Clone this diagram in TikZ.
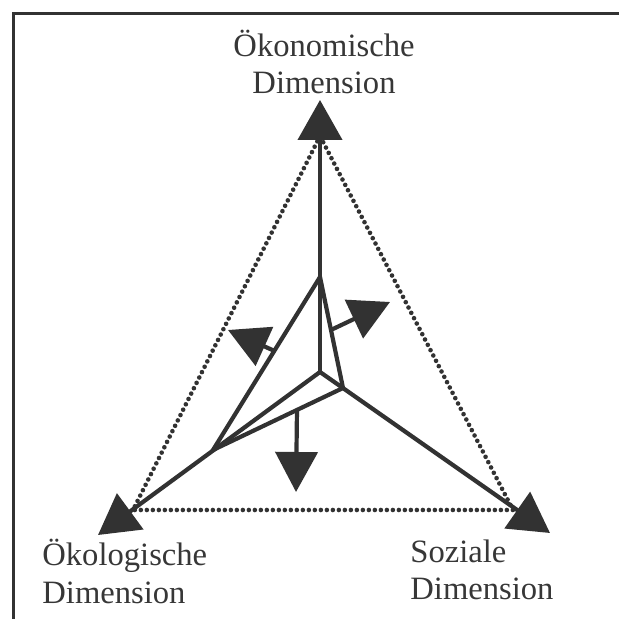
\documentclass[tikz,border=0pt]{standalone}
\usepackage{fontspec}
\setmainfont{Liberation Serif}
\usepackage{tikz}
\usetikzlibrary{arrows.meta, calc}
\definecolor{inkgray}{RGB}{50,50,50}
\definecolor{textgray}{RGB}{55,55,55}
\tikzset{
  frame/.style={draw=inkgray, line width=1.5pt},
  axis/.style={draw=inkgray, line width=2.1pt,
    -{Triangle[length=20pt, width=22pt]}},
  edge/.style={draw=inkgray, line width=2.1pt},
  normal/.style={draw=inkgray, line width=2.1pt,
    -{Triangle[length=20pt, width=21pt]}},
  dots/.style={draw=inkgray, line width=2.3pt, line cap=round,
    dash pattern=on 0pt off 3pt},
  dimlabel/.style={font=\fontsize{16.3}{18.7}\selectfont, text=textgray,
    inner sep=0pt}
}
\begin{document}
\begin{tikzpicture}[x=0.5pt, y=0.5pt]
  \useasboundingbox (0,0) rectangle (619,619);
  % frame
  \draw[frame] (13,0) -- (13,605) -- (619,605);

  % dotted outer triangle
  \coordinate (dTop) at (320,483);
  \coordinate (dLeft) at (133,109);
  \coordinate (dRight) at (513,109);
  \draw[dots] (dTop) -- (dLeft) -- (dRight) -- cycle;

  % axes
  \coordinate (O) at (320,247);
  \coordinate (topTip) at (320,519);
  \coordinate (leftTip) at (98,84);
  \coordinate (rightTip) at (550,86);
  \draw[axis] (O) -- (topTip);
  \draw[axis] (O) -- (leftTip);
  \draw[axis] (O) -- (rightTip);

  % inner triangle
  \coordinate (A) at (320,342);
  \coordinate (B) at (213,169);
  \coordinate (C) at (343,231);
  \draw[edge] (A) -- (B) -- (C) -- cycle;

  % outward arrows
  \coordinate (abFoot) at ($(A)!0.427!(B)$);
  \coordinate (acFoot) at ($(A)!0.477!(C)$);
  \coordinate (bcFoot) at ($(B)!0.646!(C)$);
  \coordinate (abTip) at (228,289);
  \coordinate (acTip) at (390,317);
  \coordinate (bcTip) at (296,127);
  \draw[normal] (abFoot) -- (abTip);
  \draw[normal] (acFoot) -- (acTip);
  \draw[normal] (bcFoot) -- (bcTip);

  % labels
  \node[dimlabel, anchor=base, align=center] (oeko) at (324,525)
    {Ökonomische\\Dimension};
  \node[dimlabel, anchor=base west, align=left] (oekol) at (42,16)
    {Ökologische\\Dimension};
  \node[dimlabel, anchor=base west, align=left] (sozi) at (410,19)
    {Soziale\\Dimension};
\end{tikzpicture}
\end{document}
